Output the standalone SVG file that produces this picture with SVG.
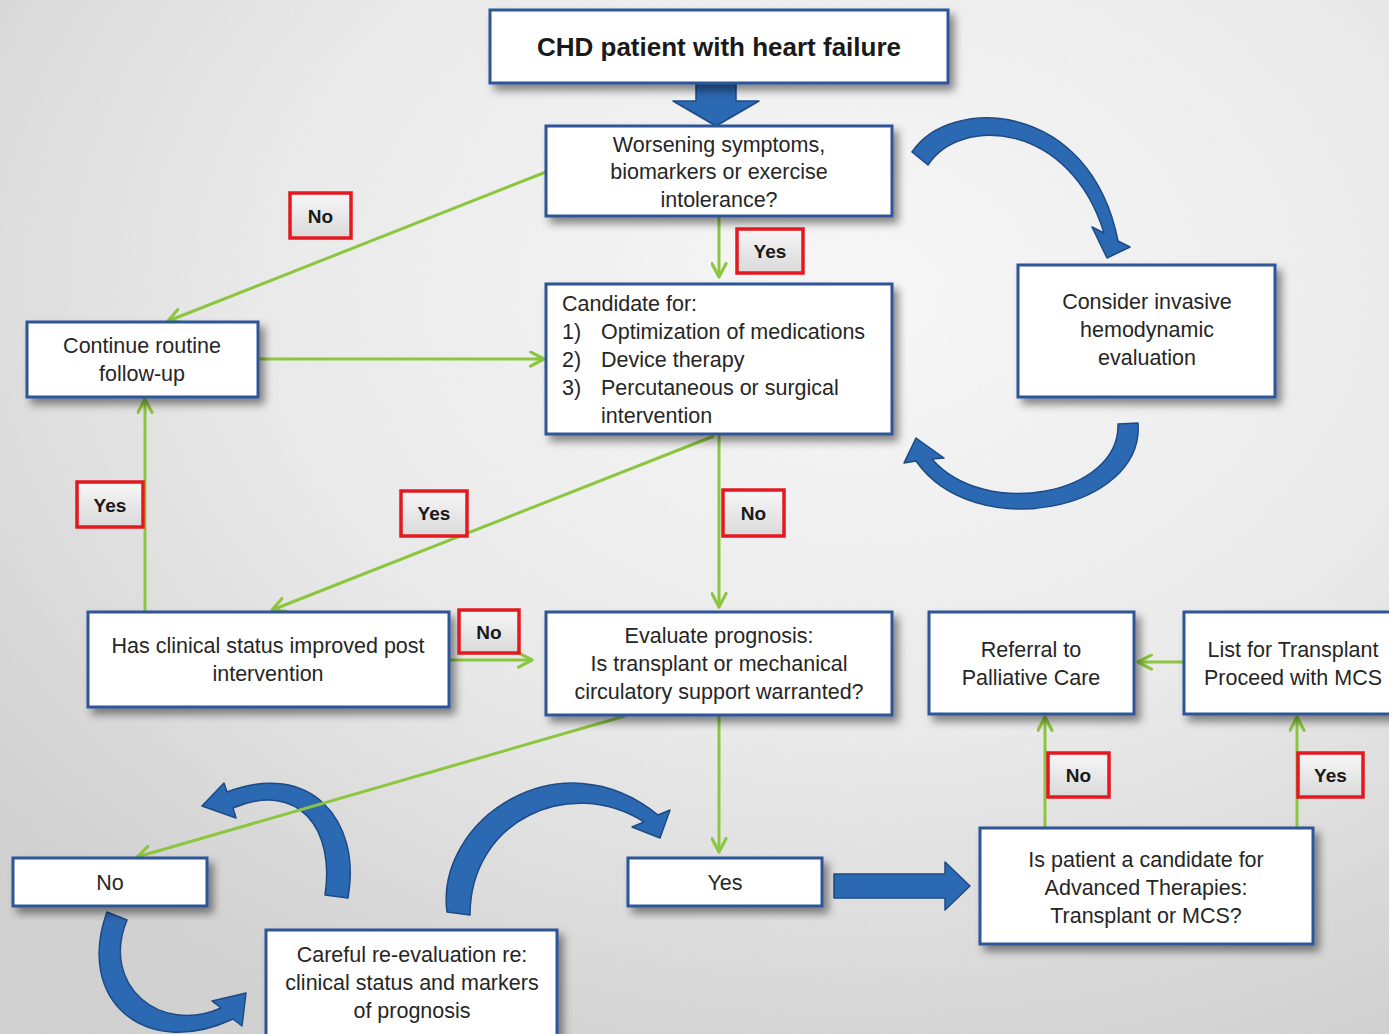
<svg xmlns="http://www.w3.org/2000/svg" width="1389" height="1034" viewBox="0 0 1389 1034">
<defs>
  <radialGradient id="bg" cx="62%" cy="28%" r="80%">
    <stop offset="0" stop-color="#fbfbfb"/>
    <stop offset="0.55" stop-color="#ececec"/>
    <stop offset="1" stop-color="#d2d2d2"/>
  </radialGradient>
  <linearGradient id="lbl" x1="0" y1="0" x2="0" y2="1">
    <stop offset="0" stop-color="#f7f7f7"/>
    <stop offset="1" stop-color="#d9d9d9"/>
  </linearGradient>
  <filter id="noise" x="0" y="0" width="100%" height="100%">
    <feTurbulence type="fractalNoise" baseFrequency="0.9" numOctaves="2" seed="3"/>
    <feColorMatrix type="matrix" values="0 0 0 0 0.5  0 0 0 0 0.5  0 0 0 0 0.5  0 0 0 0.12 0"/>
  </filter>
  <filter id="sh" x="-10%" y="-20%" width="125%" height="150%">
    <feDropShadow dx="5" dy="6" stdDeviation="4" flood-color="#000" flood-opacity="0.45"/>
  </filter>
  <marker id="ah" viewBox="0 0 12 12" refX="10.5" refY="6" markerWidth="17" markerHeight="17" markerUnits="userSpaceOnUse" orient="auto">
    <path d="M1,1 L10.5,6 L1,11" fill="none" stroke="#8cc63e" stroke-width="2.2" stroke-linecap="round" stroke-linejoin="round"/>
  </marker>
  <style>
    .box{fill:#fff;stroke:#2f5597;stroke-width:3;filter:url(#sh)}
    .t{font-family:"Liberation Sans",Arial,sans-serif;font-size:21.5px;fill:#262626;text-anchor:middle}
    .tl{font-family:"Liberation Sans",Arial,sans-serif;font-size:21.5px;fill:#262626}
    .h{font-family:"Liberation Sans",Arial,sans-serif;font-size:26px;font-weight:bold;fill:#1a1a1a;text-anchor:middle}
    .lb{fill:url(#lbl);stroke:#e3191f;stroke-width:3.5}
    .lt{font-family:"Liberation Sans",Arial,sans-serif;font-size:19px;font-weight:bold;fill:#1a1a1a;text-anchor:middle}
    .g{stroke:#8cc63e;stroke-width:3;fill:none;marker-end:url(#ah)}
    .ba{fill:#2c69b3;stroke:#1d4a85;stroke-width:1.5;stroke-linejoin:round}
  </style>
</defs>

<rect width="1389" height="1034" fill="url(#bg)"/>
<rect width="1389" height="1034" filter="url(#noise)"/>

<g id="blue-arrows">
  <path class="ba" d="M696,83 L736,83 L736,101 L759,101 L716,126 L673,101 L696,101 Z"/>
  <path class="ba" d="M912,152 C950,95 1090,100 1118,241 L1130,247 L1107,258 L1092,227 L1104,233 C1070,122 960,115 928,165 Z"/>
  <path class="ba" d="M1138,423 C1145,510 975,545 916,461 L904,463 L916,438 L944,458 L932,459 C985,520 1120,495 1118,424 Z"/>
  <path class="ba" d="M348,898 C362,820 310,760 227,792 L224,783 L202,806 L236,818 L233,808 C300,780 335,830 325,895 Z"/>
  <path class="ba" d="M107,912 C75,1000 145,1060 233,1019 L242,1026 L246,993 L212,1001 L221,1008 C160,1035 100,985 127,920 Z"/>
  <path class="ba" d="M447,912 C435,820 560,735 658,815 L670,810 L660,838 L632,827 L644,822 C570,775 470,820 470,915 Z"/>
  <path class="ba" d="M834,874 L945,874 L945,862 L970,886 L945,910 L945,898 L834,898 Z"/>
</g>

<g id="connectors">
  <line class="g" x1="546" y1="172" x2="168" y2="321"/>
  <line class="g" x1="719" y1="216" x2="719" y2="277"/>
  <line class="g" x1="258" y1="359" x2="544" y2="359"/>
  <line class="g" x1="719" y1="434" x2="719" y2="607"/>
  <line class="g" x1="714" y1="436" x2="272" y2="610"/>
  <line class="g" x1="145" y1="612" x2="145" y2="399"/>
  <line class="g" x1="449" y1="660" x2="532" y2="660"/>
  <line class="g" x1="625" y1="716" x2="137" y2="857"/>
  <line class="g" x1="719" y1="715" x2="719" y2="852"/>
  <line class="g" x1="1184" y1="662" x2="1138" y2="662"/>
  <line class="g" x1="1045" y1="828" x2="1045" y2="717"/>
  <line class="g" x1="1297" y1="828" x2="1297" y2="717"/>
</g>

<g id="n-start">
  <rect class="box" x="490" y="10" width="458" height="73"/>
  <text class="h" x="719" y="56">CHD patient with heart failure</text>
</g>
<g id="n-worsening">
  <rect class="box" x="546" y="126" width="346" height="90"/>
  <text class="t" x="719" y="152">Worsening symptoms,</text>
  <text class="t" x="719" y="179">biomarkers or exercise</text>
  <text class="t" x="719" y="207">intolerance?</text>
</g>
<g id="n-candidate">
  <rect class="box" x="546" y="284" width="346" height="150"/>
  <text class="tl" x="562" y="311">Candidate for:</text>
  <text class="tl" x="562" y="339">1)</text>
  <text class="tl" x="601" y="339">Optimization of medications</text>
  <text class="tl" x="562" y="367">2)</text>
  <text class="tl" x="601" y="367">Device therapy</text>
  <text class="tl" x="562" y="395">3)</text>
  <text class="tl" x="601" y="395">Percutaneous or surgical</text>
  <text class="tl" x="601" y="423">intervention</text>
</g>
<g id="n-invasive">
  <rect class="box" x="1018" y="265" width="257" height="132"/>
  <text class="t" x="1147" y="309">Consider invasive</text>
  <text class="t" x="1147" y="337">hemodynamic</text>
  <text class="t" x="1147" y="365">evaluation</text>
</g>
<g id="n-continue">
  <rect class="box" x="27" y="322" width="231" height="75"/>
  <text class="t" x="142" y="353">Continue routine</text>
  <text class="t" x="142" y="381">follow-up</text>
</g>
<g id="n-improved">
  <rect class="box" x="88" y="612" width="361" height="95"/>
  <text class="t" x="268" y="653">Has clinical status improved post</text>
  <text class="t" x="268" y="681">intervention</text>
</g>
<g id="n-evaluate">
  <rect class="box" x="546" y="612" width="346" height="103"/>
  <text class="t" x="719" y="643">Evaluate prognosis:</text>
  <text class="t" x="719" y="671">Is transplant or mechanical</text>
  <text class="t" x="719" y="699">circulatory support warranted?</text>
</g>
<g id="n-palliative">
  <rect class="box" x="929" y="612" width="205" height="102"/>
  <text class="t" x="1031" y="657">Referral to</text>
  <text class="t" x="1031" y="685">Palliative Care</text>
</g>
<g id="n-transplant">
  <rect class="box" x="1184" y="612" width="215" height="102"/>
  <text class="t" x="1293" y="657">List for Transplant</text>
  <text class="t" x="1293" y="685">Proceed with MCS</text>
</g>
<g id="n-advanced">
  <rect class="box" x="980" y="828" width="333" height="116"/>
  <text class="t" x="1146" y="867">Is patient a candidate for</text>
  <text class="t" x="1146" y="895">Advanced Therapies:</text>
  <text class="t" x="1146" y="923">Transplant or MCS?</text>
</g>
<g id="n-yes">
  <rect class="box" x="628" y="858" width="194" height="48"/>
  <text class="t" x="725" y="890">Yes</text>
</g>
<g id="n-no">
  <rect class="box" x="13" y="858" width="194" height="48"/>
  <text class="t" x="110" y="890">No</text>
</g>
<g id="n-careful">
  <rect class="box" x="266" y="930" width="291" height="112"/>
  <text class="t" x="412" y="962">Careful re-evaluation re:</text>
  <text class="t" x="412" y="990">clinical status and markers</text>
  <text class="t" x="412" y="1018">of prognosis</text>
</g>

<g id="labels">
  <rect class="lb" x="290" y="193" width="61" height="45"/><text class="lt" x="320.5" y="223">No</text>
  <rect class="lb" x="737" y="229" width="66" height="44"/><text class="lt" x="770" y="258">Yes</text>
  <rect class="lb" x="77" y="482" width="66" height="45"/><text class="lt" x="110" y="512">Yes</text>
  <rect class="lb" x="401" y="491" width="66" height="45"/><text class="lt" x="434" y="520">Yes</text>
  <rect class="lb" x="723" y="490" width="61" height="46"/><text class="lt" x="753.5" y="520">No</text>
  <rect class="lb" x="459" y="610" width="60" height="43"/><text class="lt" x="489" y="639">No</text>
  <rect class="lb" x="1048" y="753" width="61" height="44"/><text class="lt" x="1078.5" y="782">No</text>
  <rect class="lb" x="1298" y="753" width="65" height="44"/><text class="lt" x="1330.5" y="782">Yes</text>
</g>
</svg>
